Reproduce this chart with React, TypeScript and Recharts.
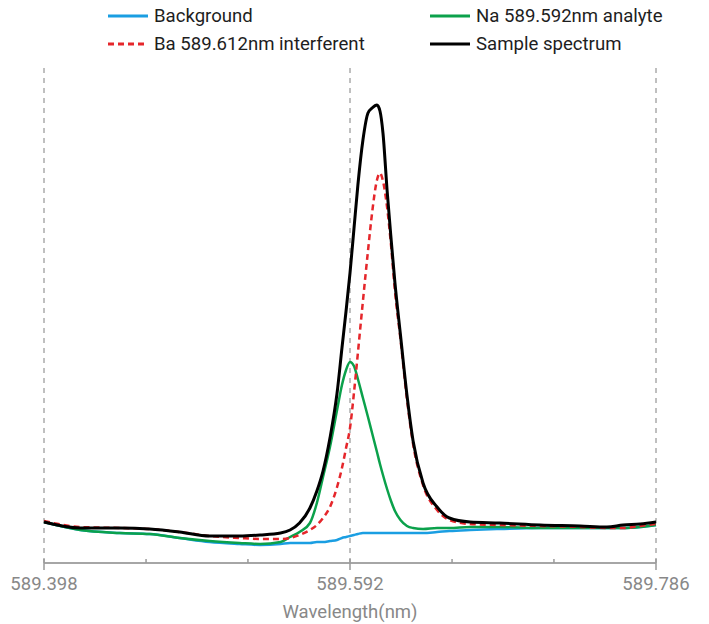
import React from "react";
import { LineChart, Line, XAxis, YAxis, ReferenceLine } from "recharts";

// wavelength grid (nm)
const wavelengths = [
  589.398, 589.421, 589.446, 589.465, 589.484, 589.503, 589.522, 589.535, 589.548, 589.554,
  589.56, 589.5666, 589.571, 589.5749, 589.5793, 589.5838, 589.5869, 589.5895, 589.592, 589.5945,
  589.597, 589.6002, 589.6034, 589.606, 589.6091, 589.611, 589.6129, 589.6155, 589.618, 589.6205,
  589.624, 589.6281, 589.632, 589.6383, 589.6472, 589.655, 589.6681, 589.687, 589.7125, 589.7378,
  589.7549, 589.7651, 589.776, 589.786,
];

// intensities (a.u.)
const background = [
  41, 33, 30, 29, 25, 21, 19, 18, 19, 20,
  20, 20, 21, 21, 22, 23, 25, 26, 27, 28,
  29, 30, 30, 30, 30, 30, 30, 30, 30, 30,
  30, 30, 30, 30, 31, 32, 33, 34, 35, 35,
  35, 35, 36, 38,
];
const naAnalyte = [
  41, 33, 30, 29, 25, 22, 20, 19, 21, 26,
  31, 40, 60, 86, 116, 153, 178, 193, 201, 197,
  184, 165, 146, 130, 111, 99, 88, 74, 62, 52,
  43, 37, 35, 34, 35, 35, 36, 36, 35, 35,
  35, 35, 36, 38,
];
const baInterferent = [
  42, 36, 35, 34, 31, 27, 25, 24, 24, 25,
  28, 33, 38, 45, 56, 76, 95, 115, 135, 170,
  210, 262, 312, 350, 383, 390, 382, 356, 318, 272,
  224, 164, 119, 78, 53, 43, 39, 38, 37, 36,
  35, 35, 37, 39,
];
const sampleSpectrum = [
  41, 35, 35, 34, 31, 27, 27, 28, 30, 33,
  40, 55, 72, 92, 125, 170, 215, 252, 290, 334,
  378, 423, 450, 455, 458, 452, 430, 373, 325, 280,
  228, 168, 122, 80, 56, 45, 41, 40, 38, 37,
  36, 38, 39, 41,
];

const majorTicks = [589.398, 589.592, 589.786];
const allTicks = [589.398, 589.4627, 589.5273, 589.592, 589.6567, 589.7213, 589.786];

const series = [
  { key: "background", name: "Background", color: "#1a9ee2", dash: undefined, width: 2.5 },
  { key: "na", name: "Na 589.592nm analyte", color: "#0ba14b", dash: undefined, width: 2.5 },
  { key: "ba", name: "Ba 589.612nm interferent", color: "#e5262b", dash: "6 4", width: 2.5 },
  { key: "sample", name: "Sample spectrum", color: "#000000", dash: undefined, width: 3 },
];

const data = wavelengths.map((wl, i) => ({
  wl,
  background: background[i],
  na: naAnalyte[i],
  ba: baInterferent[i],
  sample: sampleSpectrum[i],
}));

const FONT = "Roboto, 'Noto Sans', sans-serif";

function AxisTick(props: any) {
  const { x, y, payload } = props;
  const isMajor = majorTicks.some((t) => Math.abs(t - payload.value) < 1e-6);
  if (!isMajor) {
    return <line x1={x} x2={x} y1={y - 4} y2={y} stroke="#9a9a9a" strokeWidth={1.5} />;
  }
  return (
    <g>
      <line x1={x} x2={x} y1={y - 4} y2={y + 7} stroke="#9a9a9a" strokeWidth={1.5} />
      <text x={x} y={y + 27} textAnchor="middle" fill="#888" fontSize={18.5} fontFamily={FONT}>
        {payload.value.toFixed(3)}
      </text>
    </g>
  );
}

function LegendBox() {
  const cols = [108, 430];
  const rows = [16, 44];
  return (
    <div style={{ position: "absolute", left: 0, top: 0, width: 709, height: 60, fontFamily: FONT }}>
      {series.map((s, i) => {
        const left = cols[i % 2];
        const top = rows[Math.floor(i / 2)];
        return (
          <div
            key={s.key}
            style={{ position: "absolute", left, top: top - 12, height: 24, display: "flex", alignItems: "center" }}
          >
            <svg width={40} height={6} style={{ marginRight: 6 }}>
              <line x1={0} x2={40} y1={3} y2={3} stroke={s.color} strokeWidth={3} strokeDasharray={s.dash} />
            </svg>
            <span style={{ fontSize: 18.6, color: "#1e1e1e", whiteSpace: "nowrap" }}>{s.name}</span>
          </div>
        );
      })}
    </div>
  );
}

export default function App() {
  return (
    <div style={{ position: "absolute", left: 0, top: 0, width: 709, height: 624, background: "#fff" }}>
      <LineChart width={709} height={624} data={data} margin={{ top: 68, right: 53, left: 44, bottom: 0 }}>
        {majorTicks.map((t) => (
          <ReferenceLine key={t} x={t} stroke="#808080" strokeDasharray="5 5" strokeWidth={1} />
        ))}
        <XAxis
          dataKey="wl"
          type="number"
          domain={[589.398, 589.786]}
          ticks={allTicks}
          interval={0}
          height={61}
          tickSize={0}
          tickMargin={0}
          tickLine={false}
          tick={<AxisTick />}
          axisLine={{ stroke: "#a6a6a6", strokeWidth: 2 }}
          label={{ value: "Wavelength(nm)", position: "insideBottom", offset: 6, fill: "#888", fontSize: 18.5, fontFamily: FONT }}
        />
        <YAxis hide domain={[0, 495]} width={0} />
        {series.map((s) => (
          <Line
            key={s.key}
            dataKey={s.key}
            name={s.name}
            type="monotone"
            stroke={s.color}
            strokeWidth={s.width}
            strokeDasharray={s.dash}
            dot={false}
            activeDot={false}
            isAnimationActive={false}
          />
        ))}
      </LineChart>
      <LegendBox />
    </div>
  );
}
